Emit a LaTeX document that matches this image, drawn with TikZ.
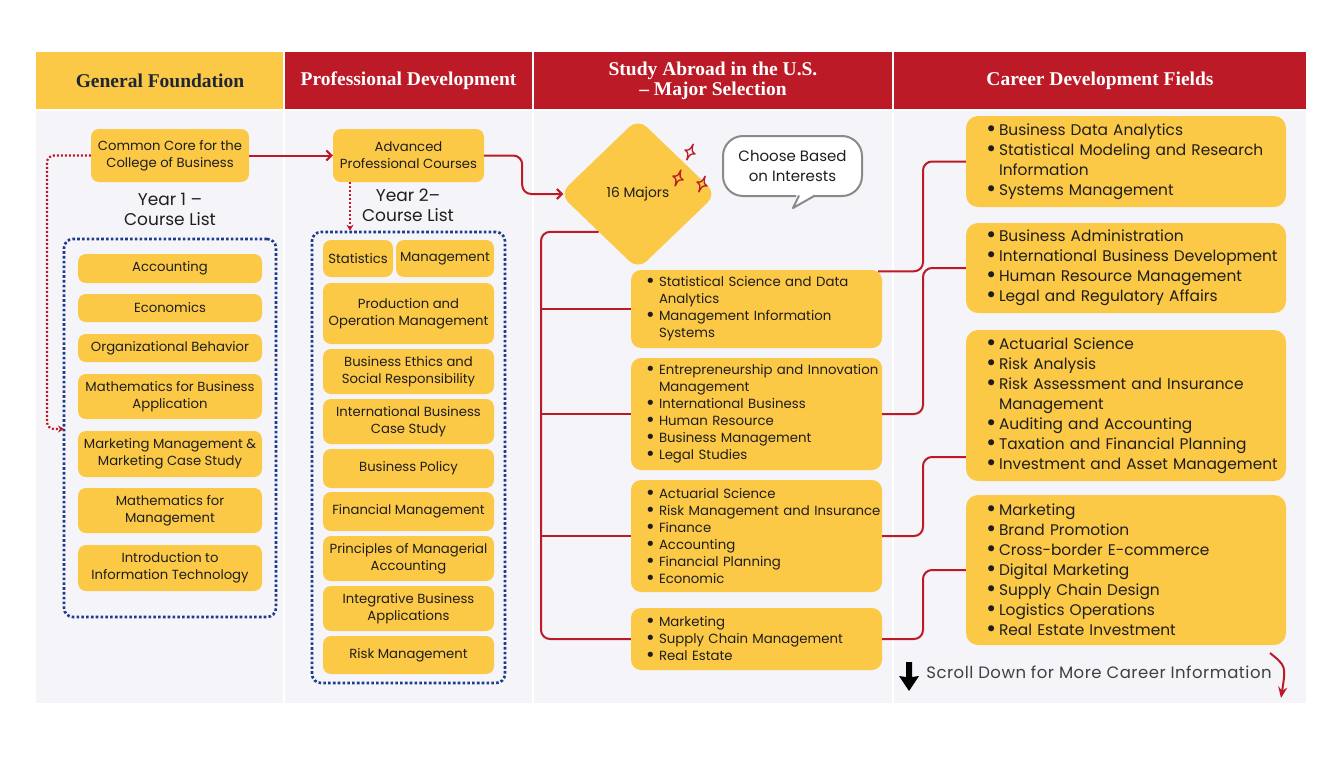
\documentclass[tikz,border=0pt]{standalone}
\usepackage{fontspec}
\setmainfont{Poppins}
\newfontfamily\hdfont{Liberation Serif}
\newfontfamily\bulfont{DejaVu Sans}
\newfontfamily\scrollfont[LetterSpace=3]{Poppins}
\usetikzlibrary{arrows.meta,shapes.geometric,calc}
\definecolor{ylw}{HTML}{FCC947}
\definecolor{rd}{HTML}{BB1A26}
\definecolor{bg}{HTML}{F4F4F9}
\definecolor{navy}{HTML}{1D3A8C}
\definecolor{ink}{HTML}{1E1E1E}
\definecolor{hdink}{HTML}{1E2633}
\definecolor{bubgray}{HTML}{8A8A8A}
\newcommand\li[1]{\makebox[11pt][l]{\hspace*{-3pt}\raisebox{-0.12ex}{\scalebox{1.35}{\bulfont •}}}\mbox{#1}}
\newcommand\lc[1]{\hspace*{11pt}\mbox{#1}}
\tikzset{
  hdtext/.style={font=\hdfont\bfseries\fontsize{19.5}{19.5}\selectfont, align=center, inner sep=0pt},
  course/.style={fill=ylw, rounded corners=8pt, inner sep=0pt, align=center, text=ink,
    font=\fontsize{13.2}{17}\selectfont},
  c1box/.style={course, minimum width=184pt},
  c2box/.style={course, minimum width=171pt},
  majbox/.style={fill=ylw, rounded corners=10pt, inner ysep=0pt, inner xsep=0pt, text width=217pt,
    minimum width=251pt, align=left, text=ink, font=\fontsize{13.3}{17}\selectfont},
  carbox/.style={fill=ylw, rounded corners=12pt, inner ysep=0pt, inner xsep=0pt, text width=276pt,
    minimum width=320pt, align=left, text=ink, font=\fontsize{15.4}{20}\selectfont},
  redline/.style={draw=rd, line width=2pt},
  reddot/.style={draw=rd, line width=2.2pt, dash pattern=on 2pt off 2pt},
  bluedot/.style={draw=navy, line width=2.6pt, dash pattern=on 2.6pt off 2.2pt, rounded corners=9pt},
  barb/.style={-{Straight Barb[length=5pt,width=10pt]}},
  sparkle/.pic={\draw[rd, line width=1.3pt, line join=round] (0,-8.5) .. controls (1,-1.5) .. (5.5,0) .. controls (1,1.5) .. (0,8.5) .. controls (-1,1.5) .. (-5.5,0) .. controls (-1,-1.5) .. cycle;}
}
\begin{document}
\begin{tikzpicture}[x=1pt,y=-1pt]
\useasboundingbox (0,0) rectangle (1344,756);
\fill[white] (0,0) rectangle (1344,756);
% panels
\fill[bg] (36,110) rectangle (1306,703);
\fill[ylw] (36,52) rectangle (284,110);
\fill[rd] (284,52) rectangle (1306,110);
\foreach \xx in {284,533,893} \draw[white, line width=1.6pt] (\xx,52) -- (\xx,703);
\draw[white, line width=1.2pt] (36,110) -- (1306,110);
% headers
\node[hdtext, text=hdink] (h1) at (160,81) {General Foundation};
\node[hdtext, text=white] (h2) at (408.5,81) {Professional Development};
\node[hdtext, text=white] (h3) at (713,81) {Study Abroad in the U.S.\\– Major Selection};
\node[hdtext, text=white] (h4) at (1100,81) {Career Development Fields};

% column 1
\node[bluedot, minimum width=212pt, minimum height=378pt] (list1) at (170,428) {};
\node[c1box, minimum width=158pt, minimum height=53pt] (cc) at (170,155.5) {Common Core for the\\College of Business};
\node[align=center, inner sep=0pt, text=ink, font=\fontsize{17}{20}\selectfont] (y1) at (170,209) {Year 1 –\\Course List};
\node[c1box, minimum height=29pt] (acc) at (170,268.5) {Accounting};
\node[c1box, minimum height=28pt] (eco) at (170,308) {Economics};
\node[c1box, minimum height=28pt] (org) at (170,348) {Organizational Behavior};
\node[c1box, minimum height=45pt] (mba) at (170,396.5) {Mathematics for Business\\Application};
\node[c1box, minimum height=46pt] (mkt) at (170,454) {Marketing Management \&\\Marketing Case Study};
\node[c1box, minimum height=45pt] (mfm) at (170,510.5) {Mathematics for\\Management};
\node[c1box, minimum height=46pt] (iit) at (170,568) {Introduction to\\Information Technology};
\coordinate (t1) at (64,429);
\draw[reddot, rounded corners=7pt, -{Stealth[length=6pt,width=7pt]}] (cc.west) -- (47,155.5) -- (47,429) -- (t1);

% column 2
\node[bluedot, minimum width=193pt, minimum height=451pt] (list2) at (408.5,457.5) {};
\node[c2box, minimum width=151pt, minimum height=53pt] (adv) at (408.5,155.5) {Advanced\\Professional Courses};
\node[align=center, inner sep=0pt, text=ink, font=\fontsize{17}{20}\selectfont] (y2) at (408,205) {Year 2–\\Course List};
\node[course, minimum width=70pt, minimum height=37pt] (stat) at (358,258.5) {Statistics};
\node[course, minimum width=98pt, minimum height=37pt] (mgmt) at (445,258.5) {Management};
\node[c2box, minimum height=61pt] (pom) at (408.5,313.5) {Production and\\Operation Management};
\node[c2box, minimum height=45pt] (bes) at (408.5,371.5) {Business Ethics and\\Social Responsibility};
\node[c2box, minimum height=45pt] (ibc) at (408.5,421.5) {International Business\\Case Study};
\node[c2box, minimum height=39pt] (bp) at (408.5,468.5) {Business Policy};
\node[c2box, minimum height=39pt] (fm) at (408.5,511.5) {Financial Management};
\node[c2box, minimum height=45pt] (pma) at (408.5,558.5) {Principles of Managerial\\Accounting};
\node[c2box, minimum height=45pt] (iba) at (408.5,608.5) {Integrative Business\\Applications};
\node[c2box, minimum height=38pt] (rm) at (408.5,655) {Risk Management};
\draw[reddot, -{Stealth[length=6pt,width=7pt]}] ([xshift=-58.5pt]adv.south) -- (list2.north -| 350,0);
\draw[redline, barb] (cc.east) -- (adv.west);

% column 3
\node[diamond, fill=ylw, rounded corners=12pt, minimum width=157pt, minimum height=151pt, inner sep=0pt,
  text=ink, font=\fontsize{13.8}{16}\selectfont] (dia) at (638,194) {16 Majors};
\draw[redline, rounded corners=9pt, barb] (adv.east) -- ++(38,0) |- ([xshift=4pt]dia.west);
\pic[rotate=-22] at (690,152) {sparkle};
\pic[rotate=-20] at (678,178) {sparkle};
\pic[rotate=-22] at (702,184) {sparkle};
\node[draw=bubgray, line width=2pt, fill=white, rounded corners=20pt, minimum width=139pt, minimum height=60pt,
  inner sep=0pt, align=center, text=ink, font=\fontsize{15}{20}\selectfont] (bub) at (792.5,166) {Choose Based\\on Interests};
\fill[white] (797,193) -- (817,193) -- (793,208) -- cycle;
\draw[bubgray, line width=2pt, line join=round] (799,195.5) -- (793,208) -- (815,195.5);

\node[majbox, minimum height=78pt] (m1) at (756.5,309) {\li{Statistical Science and Data}\\\lc{Analytics}\\\li{Management Information}\\\lc{Systems}};
\node[majbox, minimum height=112pt] (m2) at (756.5,414) {\li{Entrepreneurship and Innovation}\\\lc{Management}\\\li{International Business}\\\li{Human Resource}\\\li{Business Management}\\\li{Legal Studies}};
\node[majbox, minimum height=112pt] (m3) at (756.5,536) {\li{Actuarial Science}\\\li{Risk Management and Insurance}\\\li{Finance}\\\li{Accounting}\\\li{Financial Planning}\\\li{Economic}};
\node[majbox, minimum height=62pt] (m4) at (756.5,639) {\li{Marketing}\\\li{Supply Chain Management}\\\li{Real Estate}};
\coordinate (tr) at (541,0);
\draw[redline, rounded corners=9pt] ($(dia.west)!0.5!(dia.south)$) -| (tr |- m4.west) -- (m4.west);
\draw[redline] (tr |- m1.west) -- (m1.west);
\draw[redline] (tr |- m2.west) -- (m2.west);
\draw[redline] (tr |- m3.west) -- (m3.west);

% column 4
\node[carbox, minimum height=91pt] (c1) at (1126,161.5) {\li{Business Data Analytics}\\\li{Statistical Modeling and Research}\\\lc{Information}\\\li{Systems Management}};
\node[carbox, minimum height=90pt] (c2) at (1126,268) {\li{Business Administration}\\\li{International Business Development}\\\li{Human Resource Management}\\\li{Legal and Regulatory Affairs}};
\node[carbox, minimum height=151pt] (c3) at (1126,405.5) {\li{Actuarial Science}\\\li{Risk Analysis}\\\li{Risk Assessment and Insurance}\\\lc{Management}\\\li{Auditing and Accounting}\\\li{Taxation and Financial Planning}\\\li{Investment and Asset Management}};
\node[carbox, minimum height=150pt] (c4) at (1126,570) {\li{Marketing}\\\li{Brand Promotion}\\\li{Cross-border E-commerce}\\\li{Digital Marketing}\\\li{Supply Chain Design}\\\li{Logistics Operations}\\\li{Real Estate Investment}};
\coordinate (cx) at (923,0);
\coordinate (c3a) at ([yshift=-51.5pt]c3.west);
\draw[redline, rounded corners=9pt] ([xshift=-4pt,yshift=-1.5pt]m1.north east) -| (cx |- c1.west) -- (c1.west);
\draw[redline, rounded corners=9pt] (m2.east) -| (cx |- c2.west) -- (c2.west);
\draw[redline, rounded corners=9pt] (m3.east) -| (cx |- c3a) -- (c3a);
\draw[redline, rounded corners=9pt] (m4.east) -| (cx |- c4.west) -- (c4.west);

% scroll hint
\node[inner sep=0pt, text=ink!85, font=\scrollfont\fontsize{16.5}{18}\selectfont] (scroll) at (1099,672) {Scroll Down for More Career Information};
\fill[black] (906,662) -- (912,662) -- (912,677) -- (919,676) -- (909,691) -- (899,676) -- (906,677) -- cycle;
\draw[rd, line width=2pt, -{Stealth[length=11pt,width=9pt]}] (1270,653) .. controls (1286,666) .. (1281,698);
\end{tikzpicture}
\end{document}
